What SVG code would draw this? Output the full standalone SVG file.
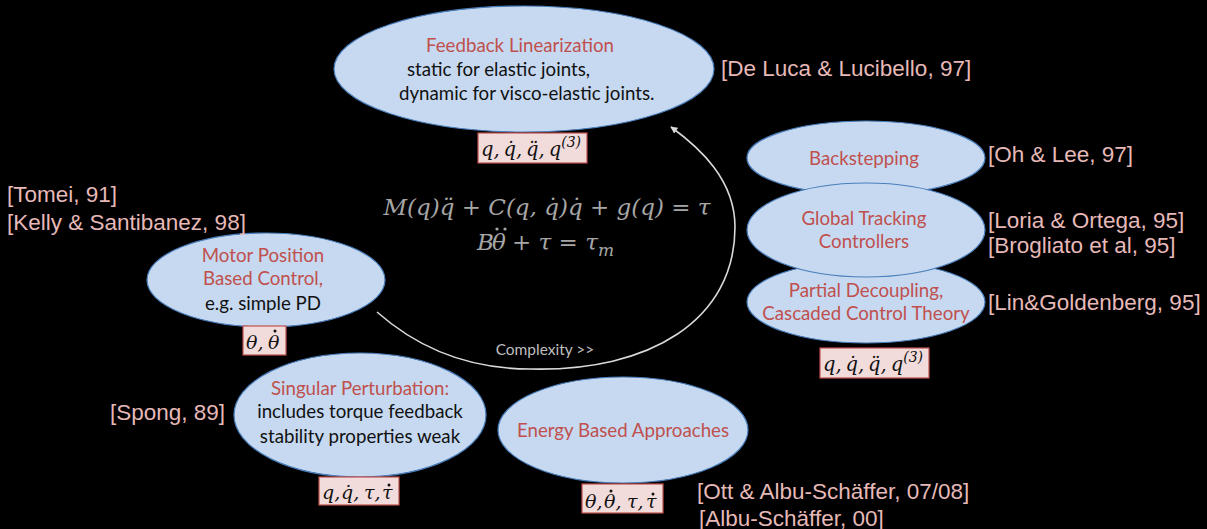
<svg xmlns="http://www.w3.org/2000/svg" width="1207" height="529" viewBox="0 0 1207 529">
<defs>
<style>
.bg{fill:#000}
.node{fill:#c6d9f1;stroke:#4a7ebb;stroke-width:1.2}
.title{font-family:Lato,"Open Sans",sans-serif;font-size:18.7px;fill:#c0504d;text-anchor:middle}
.body{font-family:Lato,"Open Sans",sans-serif;font-size:18.7px;fill:#111}
.bodyc{font-family:Lato,"Open Sans",sans-serif;font-size:18.7px;fill:#111;text-anchor:middle}
.ref{font-family:"Liberation Sans",Arial,sans-serif;font-size:22.5px;fill:#e6b9b8}
.lbl{fill:#f2dcdb;stroke:#c0504d;stroke-width:1.2}
.math{font-family:"DejaVu Serif",serif;font-style:italic;font-size:19.5px;fill:#111;text-anchor:middle}
.mathL{font-family:"DejaVu Serif",serif;font-style:italic;font-size:19px;fill:#111}
.dot{fill:#111}
.eq{font-family:"DejaVu Serif",serif;font-style:italic;font-size:23px;fill:#a6a6a6;text-anchor:middle}
.eqL{font-family:"DejaVu Serif",serif;font-style:italic;font-size:23px;fill:#a6a6a6}
.eqdot{fill:#a6a6a6}
.conn{fill:none;stroke:#d9d9d9;stroke-width:1.6}
.cx{font-family:Lato,"Open Sans",sans-serif;font-size:15.5px;fill:#bfbfbf;text-anchor:middle}
</style>
<marker id="arr" viewBox="0 0 10 10" refX="9" refY="5" markerWidth="7" markerHeight="7" orient="auto" markerUnits="userSpaceOnUse">
<path d="M0,0 L10,5 L0,10 z" fill="#d9d9d9"/>
</marker>
</defs>
<rect class="bg" x="0" y="0" width="1207" height="529"/>

<g id="connectors">
<path class="conn" d="M377,312 C420,350 470,369 530,369 C650,372 735,320 735,227 C735,180 700,148 671,127" marker-end="url(#arr)"/>
<text class="cx" x="545" y="355">Complexity &gt;&gt;</text>
</g>

<g id="equation">
<text class="eq" x="547" y="215">M(q)q̈ + C(q, q̇)q̇ + g(q) = τ</text>
<text class="eqL" y="250"><tspan x="477">B</tspan><tspan x="492">θ</tspan><tspan x="512">+ τ = τ</tspan><tspan font-size="17" dy="6">m</tspan></text>
<circle class="eqdot" cx="497" cy="229" r="1.6"/>
<circle class="eqdot" cx="505" cy="229" r="1.6"/>
</g>

<g id="feedback-linearization">
<ellipse class="node" cx="524" cy="69" rx="190" ry="63"/>
<text class="title" x="520" y="52">Feedback Linearization</text>
<text class="body" x="407" y="76">static for elastic joints,</text>
<text class="body" x="399" y="100">dynamic for visco-elastic joints.</text>
<rect class="lbl" x="478" y="133" width="109" height="30"/>
<text class="math" x="531" y="156">q,&#8201;q̇,&#8201;q̈,&#8201;q<tspan font-size="14" dy="-9">(3)</tspan></text>
<text class="ref" x="721" y="76">[De Luca &amp; Lucibello, 97]</text>
</g>

<g id="backstepping">
<ellipse class="node" cx="866" cy="158" rx="119" ry="37"/>
<text class="title" x="864" y="165">Backstepping</text>
<text class="ref" x="988" y="162">[Oh &amp; Lee, 97]</text>
</g>

<g id="partial-decoupling">
<ellipse class="node" cx="866" cy="302" rx="119" ry="41"/>
<text class="title" x="866" y="297">Partial Decoupling,</text>
<text class="title" x="866" y="320">Cascaded Control Theory</text>
<rect class="lbl" x="820" y="348" width="109" height="30"/>
<text class="math" x="873" y="371">q,&#8201;q̇,&#8201;q̈,&#8201;q<tspan font-size="14" dy="-9">(3)</tspan></text>
<text class="ref" x="988" y="310">[Lin&amp;Goldenberg, 95]</text>
</g>

<g id="global-tracking">
<ellipse class="node" cx="866" cy="230" rx="119" ry="47"/>
<text class="title" x="864" y="225">Global Tracking</text>
<text class="title" x="864" y="248">Controllers</text>
<text class="ref" x="988" y="228">[Loria &amp; Ortega, 95]</text>
<text class="ref" x="988" y="253">[Brogliato et al, 95]</text>
</g>

<g id="motor-position">
<ellipse class="node" cx="266" cy="280" rx="119" ry="47"/>
<text class="title" x="263" y="262">Motor Position</text>
<text class="title" x="263" y="285">Based Control,</text>
<text class="bodyc" x="263" y="310">e.g. simple PD</text>
<rect class="lbl" x="243" y="326" width="43" height="29"/>
<text class="mathL" y="349"><tspan x="246">θ,</tspan><tspan x="268">θ</tspan></text>
<circle class="dot" cx="275" cy="331" r="1.5"/>
<text class="ref" x="7" y="202">[Tomei, 91]</text>
<text class="ref" x="7" y="230">[Kelly &amp; Santibanez, 98]</text>
</g>

<g id="singular-perturbation">
<ellipse class="node" cx="360" cy="415" rx="126" ry="62"/>
<text class="title" x="360" y="395">Singular Perturbation:</text>
<text class="bodyc" x="360" y="418">includes torque feedback</text>
<text class="bodyc" x="360" y="443">stability properties weak</text>
<rect class="lbl" x="319" y="477" width="80" height="28"/>
<text class="mathL" y="499"><tspan x="322">q,</tspan><tspan x="341">q̇,</tspan><tspan x="364">τ,</tspan><tspan x="382">τ</tspan></text>
<circle class="dot" cx="389" cy="485" r="1.5"/>
<text class="ref" x="110" y="420">[Spong, 89]</text>
</g>

<g id="energy-based">
<ellipse class="node" cx="623" cy="430" rx="125" ry="53"/>
<text class="title" x="623" y="437">Energy Based Approaches</text>
<rect class="lbl" x="582" y="484" width="81" height="29"/>
<text class="mathL" y="508"><tspan x="585">θ,</tspan><tspan x="604">θ,</tspan><tspan x="627">τ,</tspan><tspan x="646">τ</tspan></text>
<circle class="dot" cx="611" cy="491" r="1.5"/>
<circle class="dot" cx="653" cy="494" r="1.5"/>
<text class="ref" x="697" y="499">[Ott &amp; Albu-Schäffer, 07/08]</text>
<text class="ref" x="699" y="526">[Albu-Schäffer, 00]</text>
</g>
</svg>
